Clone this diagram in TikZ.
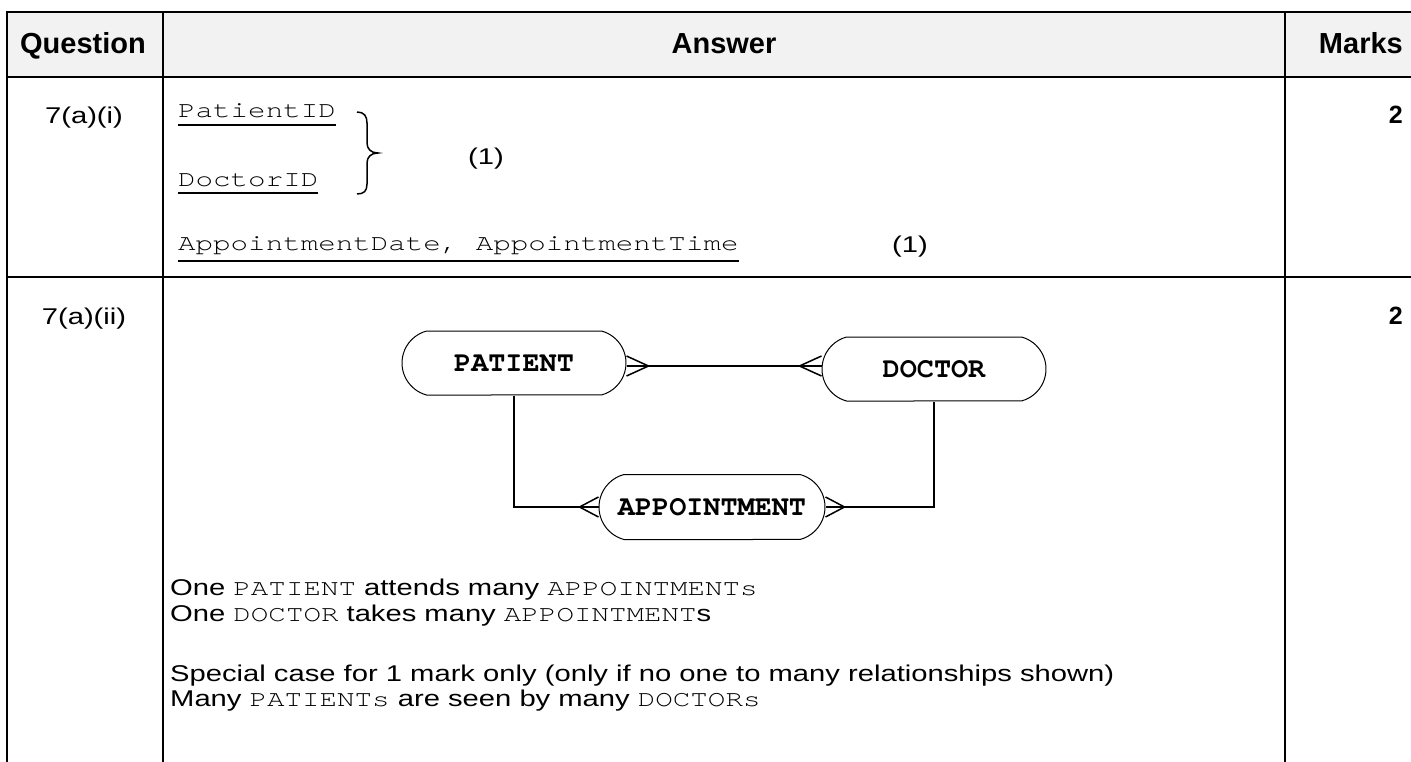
\documentclass[tikz,border=0pt]{standalone}
\usepackage{fontspec}
\setmainfont{Liberation Sans}
\newfontfamily\bsans[FakeStretch=1.28]{Liberation Sans}
\newfontfamily\bmono[Extension=.otf, UprightFont=texgyrecursor-regular, BoldFont=texgyrecursor-bold, FakeStretch=1.28]{texgyrecursor}
\newfontfamily\hsans{Liberation Sans}
\newfontfamily\emono[Extension=.otf, UprightFont=texgyrecursor-regular, BoldFont=texgyrecursor-bold]{texgyrecursor}
\usetikzlibrary{shapes.misc,calc}
\definecolor{hdrfill}{HTML}{F2F2F2}
\tikzset{
  tline/.style={line width=2.5pt},
  ul/.style={line width=2pt},
  erline/.style={line width=1.5pt},
  ent/.style={draw, line width=1pt, rounded rectangle, rounded rectangle arc length=150,
    minimum width=224pt, minimum height=64pt, inner sep=0pt,
    font=\emono\bfseries\fontsize{28.5}{30}\selectfont},
  hd/.style={inner sep=0pt, font=\hsans\bfseries\fontsize{29}{34}\selectfont},
  mk/.style={inner sep=0pt, font=\hsans\bfseries\fontsize{25}{28}\selectfont},
  bt/.style={inner sep=0pt, font=\bsans\fontsize{22.8}{26}\selectfont},
  mt/.style={inner sep=0pt, font=\bmono\fontsize{22.8}{26}\selectfont},
}
\newcommand\crowfoot[2]{%
  \draw[erline] ($(#1)+(#2,0)$) -- ($(#1)+(0,-10)$);
  \draw[erline] ($(#1)+(#2,0)$) -- ($(#1)+(0,10)$);
}
\begin{document}
\begin{tikzpicture}[x=1pt,y=-1pt]
\useasboundingbox (0,0) rectangle (1411,762);
% table
\fill[hdrfill] (7,12) rectangle (1411,77);
\draw[tline] (7,762) -- (7,12) -- (1411,12);
\draw[tline] (163,12) -- (163,762);
\draw[tline] (1285,12) -- (1285,762);
\draw[tline] (7,77) -- (1411,77);
\draw[tline] (7,277) -- (1411,277);
% header
\node[hd, anchor=base] (hq) at (83,54) {Question};
\node[hd, anchor=base] (ha) at (724,54) {Answer};
\node[hd, anchor=base east] (hm) at (1403,54) {Marks};
% row 1
\node[bt, anchor=base] (q1) at (84,124) {7(a)(i)};
\node[mk, anchor=base east] (m1) at (1403,124) {2};
\node[mt, anchor=base west] (pid) at (178,118) {PatientID};
\draw[ul] ([yshift=-7pt]pid.base west) -- ([yshift=-7pt]pid.base east);
\node[mt, anchor=base west] (did) at (178,187) {DoctorID};
\draw[ul] ([yshift=-6pt]did.base west) -- ([yshift=-6pt]did.base east);
\draw[line width=1.5pt] (357,112) .. controls (364,112) and (367,116) .. (367,123)
  -- (367,143) .. controls (367,149) and (371,153) .. (378,153)
  .. controls (371,153) and (367,157) .. (367,163)
  -- (367,184) .. controls (367,191) and (364,194) .. (357,194);
\node[bt, anchor=base] (k1) at (486,165) {(1)};
\node[mt, anchor=base west] (adt) at (178,251) {AppointmentDate, AppointmentTime};
\draw[ul] ([yshift=-10pt]adt.base west) -- ([yshift=-10pt]adt.base east);
\node[bt, anchor=base] (k2) at (910,252) {(1)};
% row 2
\node[bt, anchor=base] (q2) at (84,324) {7(a)(ii)};
\node[mk, anchor=base east] (m2) at (1403,324) {2};
% ER diagram
\node[ent] (pat) at (514,363) {PATIENT};
\node[ent] (doc) at (934,369) {DOCTOR};
\node[ent, minimum width=226pt, minimum height=65pt] (app) at (712,507) {APPOINTMENT};
\coordinate (ly) at (0,366);
\draw[erline] (pat.east |- ly) -- (doc.west |- ly);
\crowfoot{pat.east |- ly}{22}
\crowfoot{doc.west |- ly}{-22}
\draw[erline] (pat.south) -- (pat.south |- app.west) -- (app.west);
\draw[erline] (doc.south) -- (doc.south |- app.east) -- (app.east);
\crowfoot{app.west}{-19}
\crowfoot{app.east}{19}
% text
\node[bt, anchor=base west] (t1) at (170,595) {One {\bmono PATIENT} attends many {\bmono APPOINTMENTs}};
\node[bt, anchor=base west] (t2) at (170,621) {One {\bmono DOCTOR} takes many {\bmono APPOINTMENT}s};
\node[bt, anchor=base west] (t3) at (170,681) {Special case for 1 mark only (only if no one to many relationships shown)};
\node[bt, anchor=base west] (t4) at (170,706) {Many {\bmono PATIENTs} are seen by many {\bmono DOCTORs}};
\end{tikzpicture}
\end{document}
